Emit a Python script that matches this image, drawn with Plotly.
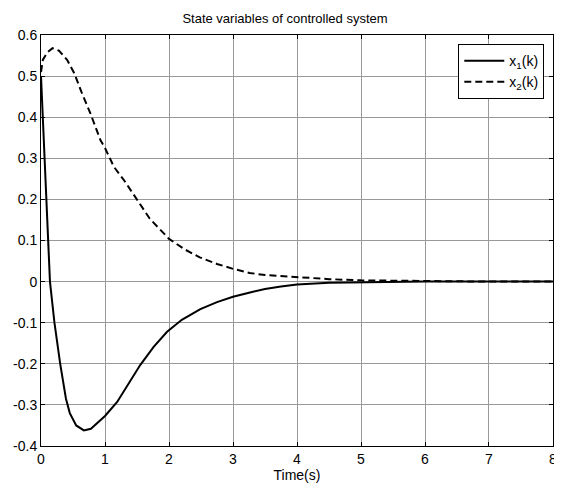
import plotly.graph_objects as go

# x1(k) samples
t1 = [0, 0.05, 0.1, 0.14, 0.21, 0.3, 0.39, 0.45, 0.55, 0.67, 0.78, 0.9, 1.0, 1.19, 1.37,
      1.55, 1.76, 1.97, 2.2, 2.49, 2.75, 3.0, 3.25, 3.5, 3.75, 4.0, 4.5, 5.0, 5.5, 6.0, 7.0, 8.0]
x1 = [0.5, 0.32, 0.14, 0.0, -0.1, -0.2, -0.285, -0.32, -0.35, -0.362, -0.358, -0.342, -0.327,
      -0.293, -0.248, -0.203, -0.159, -0.122, -0.093, -0.067, -0.05, -0.037, -0.027, -0.018,
      -0.012, -0.007, -0.003, -0.002, -0.001, 0.0, 0.0, 0.0]

# x2(k) samples
t2 = [0, 0.03, 0.1, 0.18, 0.28, 0.41, 0.52, 0.63, 0.77, 0.93, 1.0, 1.14, 1.3, 1.5, 1.7, 2.0,
      2.25, 2.48, 2.75, 3.0, 3.26, 3.5, 4.0, 4.5, 5.0, 5.5, 6.0, 6.5, 7.0, 8.0]
x2 = [0.51, 0.54, 0.558, 0.568, 0.562, 0.539, 0.507, 0.462, 0.41, 0.344, 0.325, 0.279, 0.246,
      0.2, 0.153, 0.104, 0.078, 0.059, 0.043, 0.031, 0.021, 0.016, 0.011, 0.006, 0.003, 0.002,
      0.002, 0.0, 0.0, 0.0]

x_ticks = [0, 1, 2, 3, 4, 5, 6, 7, 8]
y_ticks = [-0.4, -0.3, -0.2, -0.1, 0, 0.1, 0.2, 0.3, 0.4, 0.5, 0.6]
y_tick_text = ["-0.4", "-0.3", "-0.2", "-0.1", "0", "0.1", "0.2", "0.3", "0.4", "0.5", "0.6"]

font = "Liberation Sans, Arial, sans-serif"

fig = go.Figure()
fig.add_trace(go.Scatter(x=t1, y=x1, mode="lines", name="x<sub>1</sub>(k)",
                         line=dict(color="black", width=2, dash="solid")))
fig.add_trace(go.Scatter(x=t2, y=x2, mode="lines", name="x<sub>2</sub>(k)",
                         line=dict(color="black", width=2, dash="7px,4px")))

axis_common = dict(showline=True, linecolor="black", linewidth=1, mirror="ticks",
                   ticks="inside", ticklen=4, tickcolor="black",
                   showgrid=True, gridcolor="#999999", gridwidth=1, zeroline=False,
                   tickfont=dict(family=font, size=14, color="black"))

fig.update_xaxes(range=[0, 8.0001], tickvals=x_ticks, **axis_common,
                 title=dict(text="Time(s)", font=dict(family=font, size=14, color="black"),
                            standoff=2))
fig.update_yaxes(range=[-0.4, 0.6], tickvals=y_ticks, ticktext=y_tick_text, **axis_common)

W, H = 554, 481
fig.update_layout(
    width=W, height=H,
    margin=dict(l=32, r=5, t=27, b=43),
    paper_bgcolor="white", plot_bgcolor="white",
    title=dict(text="State variables of controlled system", x=0.5, xanchor="center",
               y=1 - 10 / H, yanchor="middle",
               font=dict(family=font, size=13, color="black")),
    showlegend=True,
    legend=dict(x=0.983, xanchor="right", y=0.978, yanchor="top",
                bordercolor="black", borderwidth=1, bgcolor="white",
                font=dict(family=font, size=14, color="black"),
                itemwidth=40),
)

fig.write_html("out.html")
